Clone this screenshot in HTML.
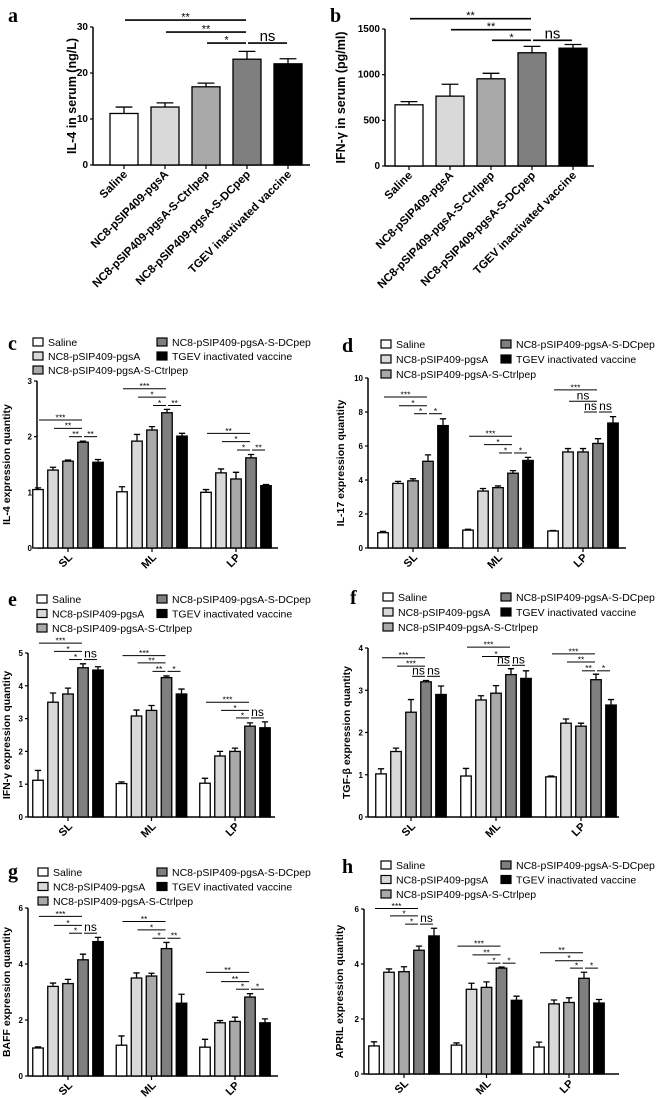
<!DOCTYPE html>
<html><head><meta charset="utf-8"><style>
html,body{margin:0;padding:0;background:#fff;}
svg{display:block;font-family:"Liberation Sans",Arial,sans-serif;}
</style></head><body>
<svg id="fig" width="656" height="1098" viewBox="0 0 656 1098" xmlns="http://www.w3.org/2000/svg"></svg>
<script>
// ---------- data ----------
const groupNames = ['Saline','NC8-pSIP409-pgsA','NC8-pSIP409-pgsA-S-Ctrlpep','NC8-pSIP409-pgsA-S-DCpep','TGEV inactivated vaccine'];
const tissues = ['SL','ML','LP'];
const fills = ['#ffffff','#d9d9d9','#a9a9a9','#7f7f7f','#000000'];

const aValues = [11.2,12.6,17.0,23.0,22.0];
const aErrors = [1.4,0.9,0.8,1.7,1.1];
const aTicks = [0,10,20,30];
const aSig = [[0,3,'**',31.5],[1,3,'**',28.9],[2,3,'*',26.5],[3,4,'ns',26.5]];

const bValues = [670,765,955,1240,1290];
const bErrors = [35,130,60,70,40];
const bTicks = [0,500,1000,1500];
const bSig = [[0,3,'**',1613],[1,3,'**',1493],[2,3,'*',1376],[3,4,'ns',1376]];

const cValues = [[1.05,1.40,1.56,1.90,1.54],[1.01,1.92,2.12,2.43,2.01],[1.00,1.35,1.24,1.62,1.12]];
const cErrors = [[0.03,0.05,0.02,0.02,0.05],[0.09,0.12,0.06,0.06,0.05],[0.05,0.07,0.12,0.06,0.02]];
const cTicks = [0,1,2,3];
const cSig = [[[0,3,'***',2.30],[1,3,'**',2.15],[2,3,'**',2.0],[3,4,'**',2.0]],
              [[0,3,'***',2.86],[1,3,'*',2.71],[2,3,'*',2.56],[3,4,'**',2.56]],
              [[0,3,'**',2.06],[1,3,'*',1.91],[2,3,'*',1.76],[3,4,'**',1.76]]];

const dValues = [[0.90,3.80,3.95,5.10,7.20],[1.05,3.35,3.55,4.40,5.15],[1.00,5.65,5.65,6.15,7.35]];
const dErrors = [[0.08,0.12,0.12,0.38,0.40],[0.05,0.15,0.10,0.15,0.18],[0.03,0.20,0.20,0.28,0.38]];
const dTicks = [0,2,4,6,8,10];
const dSig = [[[0,3,'***',8.88],[1,3,'*',8.37],[2,3,'*',7.9],[3,4,'*',7.9]],
              [[0,3,'***',6.57],[1,3,'*',6.08],[2,3,'*',5.59],[3,4,'*',5.59]],
              [[0,3,'***',9.3],[1,3,'ns',8.63],[2,3,'ns',8.0],[3,4,'ns',8.0]]];

const eValues = [[1.12,3.50,3.75,4.55,4.48],[1.02,3.08,3.25,4.25,3.75],[1.03,1.86,2.00,2.77,2.72]];
const eErrors = [[0.30,0.28,0.18,0.12,0.10],[0.05,0.18,0.15,0.05,0.15],[0.15,0.14,0.10,0.10,0.18]];
const eTicks = [0,1,2,3,4,5];
const eSig = [[[0,3,'***',5.3],[1,3,'*',5.05],[2,3,'*',4.8],[3,4,'ns',4.8]],
              [[0,3,'***',4.92],[1,3,'**',4.7],[2,3,'**',4.44],[3,4,'*',4.44]],
              [[0,3,'***',3.5],[1,3,'*',3.25],[2,3,'*',3.02],[3,4,'ns',3.02]]];

const fValues = [[1.02,1.55,2.48,3.20,2.90],[0.97,2.77,2.93,3.37,3.28],[0.95,2.22,2.15,3.25,2.65]];
const fErrors = [[0.12,0.08,0.30,0.03,0.20],[0.18,0.10,0.18,0.14,0.18],[0.02,0.10,0.07,0.13,0.13]];
const fTicks = [0,1,2,3,4];
const fSig = [[[0,3,'***',3.77],[1,3,'***',3.57],[2,3,'ns',3.33],[3,4,'ns',3.33]],
              [[0,3,'***',4.02],[1,3,'*',3.8],[2,3,'ns',3.59],[3,4,'ns',3.59]],
              [[0,3,'***',3.86],[1,3,'**',3.67],[2,3,'**',3.46],[3,4,'*',3.46]]];

const gValues = [[1.00,3.20,3.30,4.15,4.80],[1.10,3.50,3.57,4.55,2.60],[1.03,1.90,1.95,2.82,1.90]];
const gErrors = [[0.04,0.12,0.15,0.20,0.15],[0.33,0.18,0.10,0.22,0.32],[0.28,0.08,0.15,0.12,0.14]];
const gTicks = [0,2,4,6];
const gSig = [[[0,3,'***',5.7],[1,3,'*',5.38],[2,3,'*',5.1],[3,4,'ns',5.1]],
              [[0,3,'**',5.52],[1,3,'*',5.22],[2,3,'*',4.92],[3,4,'**',4.92]],
              [[0,3,'**',3.7],[1,3,'**',3.37],[2,3,'*',3.1],[3,4,'*',3.1]]];

const hValues = [[1.02,3.70,3.72,4.50,5.02],[1.05,3.08,3.15,3.85,2.68],[0.98,2.55,2.60,3.48,2.58]];
const hErrors = [[0.15,0.12,0.18,0.15,0.28],[0.08,0.22,0.20,0.04,0.15],[0.18,0.14,0.17,0.22,0.13]];
const hTicks = [0,2,4,6];
const hSig = [[[0,3,'***',6.02],[1,3,'*',5.75],[2,3,'*',5.45],[3,4,'ns',5.45]],
              [[0,3,'***',4.65],[1,3,'**',4.33],[2,3,'*',4.03],[3,4,'*',4.03]],
              [[0,3,'**',4.41],[1,3,'*',4.12],[2,3,'*',3.85],[3,4,'*',3.85]]];

// ---------- drawing ----------
const NS = 'http://www.w3.org/2000/svg';
const fig = document.getElementById('fig');
function mk(tag, parent){ const e=document.createElementNS(NS,tag); parent.appendChild(e); return e; }
function set(e,o){ for(const k in o) e.setAttribute(k,o[k]); return e; }

function frame(L, ticks, max, title){
  const g = mk('g', fig);
  
  
  const ys = v => L.y0 - v/max*(L.y0-L.y1);
  const letter = set(mk('text',g),{x:L.lx,y:L.ly,'font-family':'Liberation Serif,serif','font-weight':'bold','font-size':20});
  letter.textContent = L.id;
  
  
  const ax = set(mk('line',g),{x1:L.ax,y1:L.y1,x2:L.ax,y2:L.y0,stroke:'#000','stroke-width':1.5});
  
  
  const xx = set(mk('line',g),{x1:L.ax,y1:L.y0,x2:L.axEnd,y2:L.y0,stroke:'#000','stroke-width':1.5});
  
  
  ticks.forEach(t=>{
    set(mk('line',g),{x1:L.ax-3,y1:ys(t),x2:L.ax,y2:ys(t),stroke:'#000','stroke-width':1.2});
    const tl = set(mk('text',g),{x:L.ax-5,y:ys(t)+3,'text-anchor':'end','font-size':L.tfs,'font-weight':'bold'});
    tl.textContent = t;
    
    
  });
  const yt = set(mk('text',g),{x:0,y:0,'text-anchor':'middle','font-size':L.yfs,'font-weight':'bold',transform:`translate(${L.tx},${(L.y0+L.y1)/2}) rotate(-90)`});
  yt.textContent = title;
  
  
  return {g, ys};
}

function bar(g, ys, cx, w, v, err, fill, base){
  const r = set(mk('rect',g),{x:cx-w/2,y:ys(v),width:w,height:base-ys(v),fill:fill,stroke:'#000','stroke-width':1.3});
  
  
  const top = ys(v+err);
  const e = set(mk('path',g),{d:`M${cx},${ys(v)}V${top}M${cx-w*0.3},${top}H${cx+w*0.3}`,stroke:'#000','stroke-width':1.3,fill:'none'});
  
  
}

function sig(g, ys, xs, s, sfs, nfs, sw){
  const x1 = xs[s[0]]+1, x2 = xs[s[1]]-1, y = ys(s[3]);
  const l = set(mk('line',g),{x1:x1,y1:y,x2:x2,y2:y,stroke:'#000','stroke-width':sw});
  
  
  const isNs = s[2]==='ns';
  const t = set(mk('text',g),{x:(x1+x2)/2,y:isNs? y-2 : y+ (sfs*0.05),'text-anchor':'middle','font-size':isNs?nfs:sfs});
  t.textContent = s[2];
  
  
}

function catPanel(L, values, errors, ticks, sigs, title){
  const max = ticks[ticks.length-1];
  const {g, ys} = frame(L, ticks, max, title);
  const xs = values.map((v,i)=>L.x0 + i*L.step);
  values.forEach((v,i)=>{
    bar(g, ys, xs[i], L.bw, v, errors[i], fills[i], L.y0);
    set(mk('line',g),{x1:xs[i],y1:L.y0,x2:xs[i],y2:L.y0+4,stroke:'#000','stroke-width':1.2});
    const t = set(mk('text',g),{x:0,y:0,'text-anchor':'end','font-size':11.5,'font-weight':'bold',transform:`translate(${xs[i]+4},${L.y0+10}) rotate(-45)`});
    t.textContent = groupNames[i];
    
    
  });
  sigs.forEach(s=>sig(g, ys, xs, s, 11, 15, 1.6));
}

function groupPanel(L, values, errors, ticks, sigs, title){
  const max = ticks[ticks.length-1];
  const {g, ys} = frame(L, ticks, max, title);
  // legend
  const lg = mk('g', g);
  
  
  const pos = [[0,0],[0,1],[0,2],[1,0],[1,1]];
  groupNames.forEach((n,i)=>{
    const bx = pos[i][0] ? L.lx2 : L.lx1, by = L.ly1 + pos[i][1]*L.lrow;
    const e = mk('g', lg);
    
    
    set(mk('rect',e),{x:bx,y:by-4,width:10,height:8,fill:fills[i],stroke:'#000','stroke-width':1.2});
    const t = set(mk('text',e),{x:bx+15,y:by+4,'font-size':10.5});
    t.textContent = n;
  });
  values.forEach((grp,k)=>{
    const cx = L.gx0 + k*L.gstep;
    const xs = grp.map((v,i)=>cx + (i-2)*L.step);
    grp.forEach((v,i)=>bar(g, ys, xs[i], L.bw, v, errors[k][i], fills[i], L.y0));
    set(mk('line',g),{x1:cx,y1:L.y0,x2:cx,y2:L.y0+4,stroke:'#000','stroke-width':1.2});
    const t = set(mk('text',g),{x:0,y:0,'text-anchor':'end','font-size':11,'font-weight':'bold',transform:`translate(${cx+5},${L.y0+10}) rotate(-45)`});
    t.textContent = tissues[k];
    
    
    sigs[k].forEach(s=>sig(g, ys, xs, s, 8.5, 12, 1));
  });
}

// layouts (pixel geometry)
catPanel({id:'a',lx:8,ly:22,ax:93,axEnd:310,y0:165,y1:27,x0:124,step:41,bw:28,tfs:10,yfs:12.5,tx:76}, aValues, aErrors, aTicks, aSig, 'IL-4 in serum (ng/L)');
catPanel({id:'b',lx:330,ly:22,ax:385,axEnd:594,y0:166,y1:29,x0:409,step:41,bw:28,tfs:10,yfs:12.5,tx:345}, bValues, bErrors, bTicks, bSig, 'IFN-\u03b3 in serum (pg/ml)');

const gbase = {step:15,bw:10.5,tfs:8,yfs:10.5,gstep:84};
groupPanel(Object.assign({},gbase,{id:'c',lx:8,ly:350,ax:37,axEnd:278,y0:548,y1:381,gx0:68,tx:10,lx1:33,lx2:157,ly1:342,lrow:14}), cValues, cErrors, cTicks, cSig, 'IL-4 expression quantity');
groupPanel(Object.assign({},gbase,{id:'d',lx:342,ly:352,ax:368,axEnd:626,y0:548,y1:378,gx0:413,gstep:85,tx:344,lx1:381,lx2:501,ly1:344,lrow:15}), dValues, dErrors, dTicks, dSig, 'IL-17 expression quantity');
groupPanel(Object.assign({},gbase,{id:'e',lx:8,ly:606,ax:28,axEnd:275,y0:817,y1:653,gx0:68,gstep:83.5,tx:10,lx1:37,lx2:157,ly1:599,lrow:14.5}), eValues, eErrors, eTicks, eSig, 'IFN-\u03b3 expression quantity');
groupPanel(Object.assign({},gbase,{id:'f',lx:350,ly:604,ax:368,axEnd:619,y0:817,y1:648,gx0:411,gstep:85,tx:350,lx1:383,lx2:501,ly1:597,lrow:15}), fValues, fErrors, fTicks, fSig, 'TGF-\u03b2  expression quantity');
groupPanel(Object.assign({},gbase,{id:'g',lx:8,ly:878,ax:28,axEnd:278,y0:1076,y1:908,gx0:68,gstep:83.5,tx:10,lx1:38,lx2:157,ly1:872,lrow:14.5}), gValues, gErrors, gTicks, gSig, 'BAFF expression quantity');
groupPanel(Object.assign({},gbase,{id:'h',lx:342,ly:873,ax:364,axEnd:619,y0:1074,y1:909,gx0:404,gstep:82.5,tx:343,lx1:381,lx2:501,ly1:865,lrow:14.5}), hValues, hErrors, hTicks, hSig, 'APRIL expression quantity');
</script>
</body></html>
